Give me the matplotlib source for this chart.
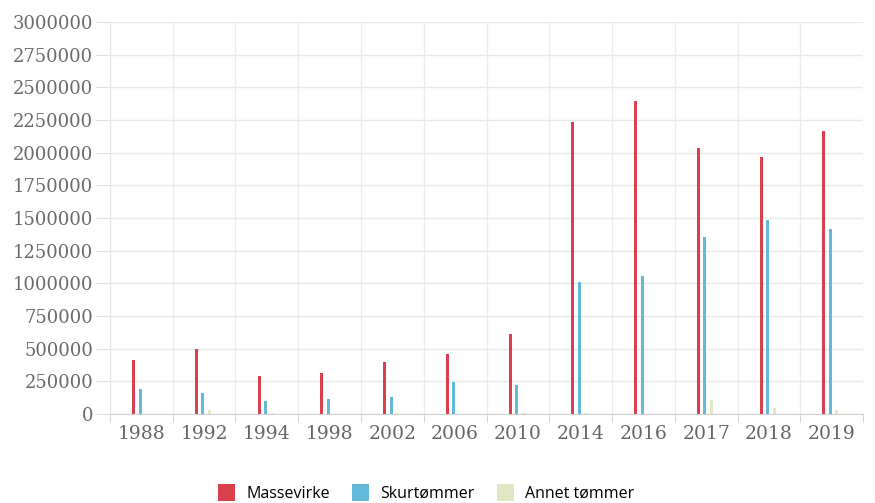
import matplotlib.pyplot as plt
import numpy as np

# Volum per år (m3)
years = ['1988', '1992', '1994', '1998', '2002', '2006', '2010',
         '2014', '2016', '2017', '2018', '2019']
massevirke = [415000, 495000, 291000, 314000, 396000, 459000, 612000,
              2235000, 2393000, 2033000, 1969000, 2168000]
skurtommer = [194000, 158000, 99000, 115000, 130000, 243000, 222000,
              1010000, 1056000, 1357000, 1485000, 1413000]
annet = [3000, 30000, 5000, 2000, 5000, 3000, 5000,
         4000, 3000, 107000, 46000, 31000]

series = [('Massevirke', massevirke, '#d8404e'),
          ('Skurtømmer', skurtommer, '#62b9da'),
          ('Annet tømmer', annet, '#e3e6c2')]

fig = plt.figure(figsize=(8.75, 5.03), dpi=100)
ax = fig.add_axes([0.1257, 0.177, 0.8606, 0.779])

x = np.arange(len(years))
step = 0.104
bar_w = 0.05
for i, (name, vals, col) in enumerate(series):
    ax.bar(x + (i - 1) * step - 0.02, vals, width=bar_w, color=col,
           label=name, zorder=3)

ax.set_xlim(-0.5, len(years) - 0.5)
ax.set_ylim(0, 3000000)
ax.set_yticks(np.arange(0, 3000001, 250000))
ax.set_yticklabels([str(v) for v in range(0, 3000001, 250000)])
ax.set_xticks(x)
ax.set_xticklabels(years)
ax.set_xticks(np.arange(-0.5, len(years), 1), minor=True)

ax.grid(axis='y', color='#e8e8e8', linewidth=1, zorder=0)
ax.grid(axis='x', which='minor', color='#ececec', linewidth=1, zorder=0)
ax.grid(axis='x', which='major', visible=False)

for side in ['top', 'right']:
    ax.spines[side].set_visible(False)
ax.spines['left'].set_color('#e8e8e8')
ax.spines['bottom'].set_color('#d0d0d0')

ax.tick_params(axis='y', length=10, color='#e0e0e0', labelsize=13,
               labelcolor='#6a6a6a', pad=2)
ax.tick_params(axis='x', which='major', length=0, labelsize=13.5,
               labelcolor='#666666', pad=8)
ax.tick_params(axis='x', which='minor', length=6, color='#d0d0d0')
for lbl in ax.get_xticklabels() + ax.get_yticklabels():
    lbl.set_family('DejaVu Serif')

fig.legend(loc='center', bbox_to_anchor=(0.487, 0.02), ncol=3,
           frameon=False, handlelength=1.05, handleheight=1.25,
           handletextpad=0.7, columnspacing=1.4,
           prop={'family': 'Open Sans', 'size': 11.5})

plt.savefig('out.png', dpi=100)
